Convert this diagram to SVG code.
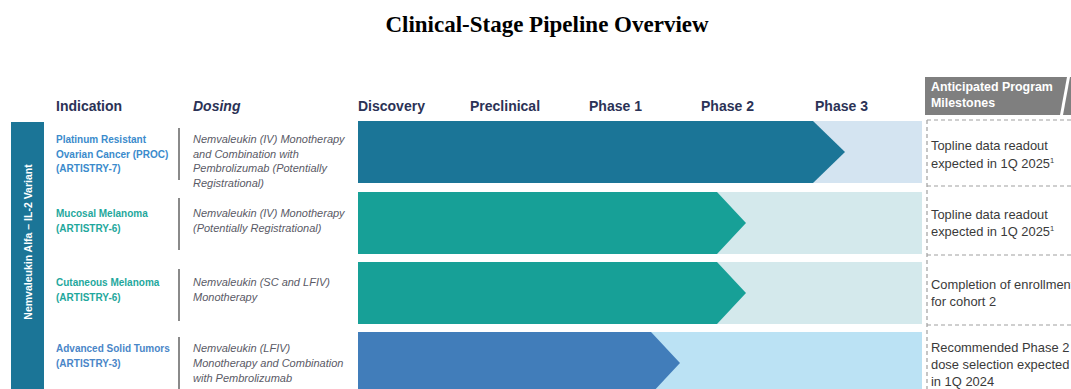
<svg xmlns="http://www.w3.org/2000/svg" width="1071" height="389" viewBox="0 0 1071 389">
<style>
.title{font-family:"Liberation Serif",serif;font-weight:bold;font-size:23px;fill:#000}
.hdr{font-family:"Liberation Sans",Arial,sans-serif;font-weight:bold;font-size:14px;fill:#2b3256}
.ind{font-family:"Liberation Sans",Arial,sans-serif;font-weight:bold;font-size:10px}
.dos{font-family:"Liberation Sans",Arial,sans-serif;font-style:italic;font-size:11px;fill:#5a5a66}
.ms{font-family:"Liberation Sans",Arial,sans-serif;font-size:12.9px;fill:#3a3a3a}
.msh{font-family:"Liberation Sans",Arial,sans-serif;font-weight:bold;font-size:12.4px;fill:#ffffff}
.sep{stroke:#8a8a8a;stroke-width:2}
.dash{stroke:#a0a0a0;stroke-width:1.2;stroke-dasharray:4 3;fill:none}
</style>
<rect width="1071" height="389" fill="#ffffff"/>
<text class="title" x="547" y="32" text-anchor="middle">Clinical-Stage Pipeline Overview</text>

<g id="headers">
<text class="hdr" x="56" y="111">Indication</text>
<text class="hdr" x="193" y="111" font-style="italic">Dosing</text>
<text class="hdr" x="358" y="111">Discovery</text>
<text class="hdr" x="470" y="111">Preclinical</text>
<text class="hdr" x="589" y="111">Phase 1</text>
<text class="hdr" x="701" y="111">Phase 2</text>
<text class="hdr" x="815" y="111">Phase 3</text>
</g>

<g id="milestone-header">
<rect x="925" y="77" width="146" height="38" fill="#7f7f7f"/>
<polygon points="1060,115 1063,115 1070,77 1067,77" fill="#ffffff"/>
<text class="msh" x="931" y="91">Anticipated Program</text>
<text class="msh" x="931" y="107">Milestones</text>
</g>

<g id="drug-label">
<rect x="11" y="122" width="33" height="267" fill="#1b7597"/>
<text x="0" y="0" transform="translate(32,242) rotate(-90)" text-anchor="middle" font-family="Liberation Sans, Arial, sans-serif" font-weight="bold" font-size="10.5" fill="#ffffff">Nemvaleukin Alfa – IL-2 Variant</text>
</g>

<g id="row1">
<rect x="358" y="121" width="564" height="62" fill="#d4e4f1"/>
<polygon points="358,121 813,121 845,152 813,183 358,183" fill="#1b7597"/>
<text class="ind" fill="#3b8bcc"><tspan x="56" y="143">Platinum Resistant</tspan><tspan x="56" y="157.5">Ovarian Cancer (PROC)</tspan><tspan x="56" y="172">(ARTISTRY-7)</tspan></text>
<line class="sep" x1="179" y1="128" x2="179" y2="180"/>
<text class="dos"><tspan x="193" y="143">Nemvaleukin (IV) Monotherapy</tspan><tspan x="193" y="157.5">and Combination with</tspan><tspan x="193" y="172">Pembrolizumab (Potentially</tspan><tspan x="193" y="186.5">Registrational)</tspan></text>
<text class="ms"><tspan x="931" y="150">Topline data readout</tspan><tspan x="931" y="168">expected in 1Q 2025<tspan font-size="7.5" dy="-5">1</tspan></tspan></text>
</g>

<g id="row2">
<rect x="358" y="192" width="564" height="62" fill="#d4e9ec"/>
<polygon points="358,192 717,192 746,223 717,254 358,254" fill="#17a097"/>
<text class="ind" fill="#1fa89d"><tspan x="56" y="217">Mucosal Melanoma</tspan><tspan x="56" y="232">(ARTISTRY-6)</tspan></text>
<line class="sep" x1="179" y1="198" x2="179" y2="250"/>
<text class="dos"><tspan x="193" y="217">Nemvaleukin (IV) Monotherapy</tspan><tspan x="193" y="232">(Potentially Registrational)</tspan></text>
<text class="ms"><tspan x="931" y="219">Topline data readout</tspan><tspan x="931" y="236">expected in 1Q 2025<tspan font-size="7.5" dy="-5">1</tspan></tspan></text>
</g>

<g id="row3">
<rect x="358" y="262" width="564" height="62" fill="#d4e9ec"/>
<polygon points="358,262 717,262 746,293 717,324 358,324" fill="#17a097"/>
<text class="ind" fill="#1fa89d"><tspan x="56" y="286">Cutaneous Melanoma</tspan><tspan x="56" y="301">(ARTISTRY-6)</tspan></text>
<line class="sep" x1="179" y1="269" x2="179" y2="321"/>
<text class="dos"><tspan x="193" y="286">Nemvaleukin (SC and LFIV)</tspan><tspan x="193" y="301">Monotherapy</tspan></text>
<text class="ms"><tspan x="931" y="289">Completion of enrollment</tspan><tspan x="931" y="306">for cohort 2</tspan></text>
</g>

<g id="row4">
<rect x="358" y="332" width="564" height="62" fill="#bbe2f4"/>
<polygon points="358,332 651,332 680,363 651,394 358,394" fill="#417dba"/>
<text class="ind" fill="#4a86c8"><tspan x="56" y="352">Advanced Solid Tumors</tspan><tspan x="56" y="367">(ARTISTRY-3)</tspan></text>
<line class="sep" x1="179" y1="337" x2="179" y2="389"/>
<text class="dos"><tspan x="193" y="352">Nemvaleukin (LFIV)</tspan><tspan x="193" y="367">Monotherapy and Combination</tspan><tspan x="193" y="382">with Pembrolizumab</tspan></text>
<text class="ms"><tspan x="931" y="352">Recommended Phase 2</tspan><tspan x="931" y="369">dose selection expected</tspan><tspan x="931" y="386">in 1Q 2024</tspan></text>
</g>

<g id="connectors">
<line class="dash" x1="927" y1="120" x2="1071" y2="120"/>
<line class="dash" x1="927" y1="186" x2="1071" y2="186"/>
<line class="dash" x1="927" y1="255" x2="1071" y2="255"/>
<line class="dash" x1="927" y1="325" x2="1071" y2="325"/>
<line class="dash" x1="927" y1="120" x2="927" y2="389"/>
</g>
</svg>
